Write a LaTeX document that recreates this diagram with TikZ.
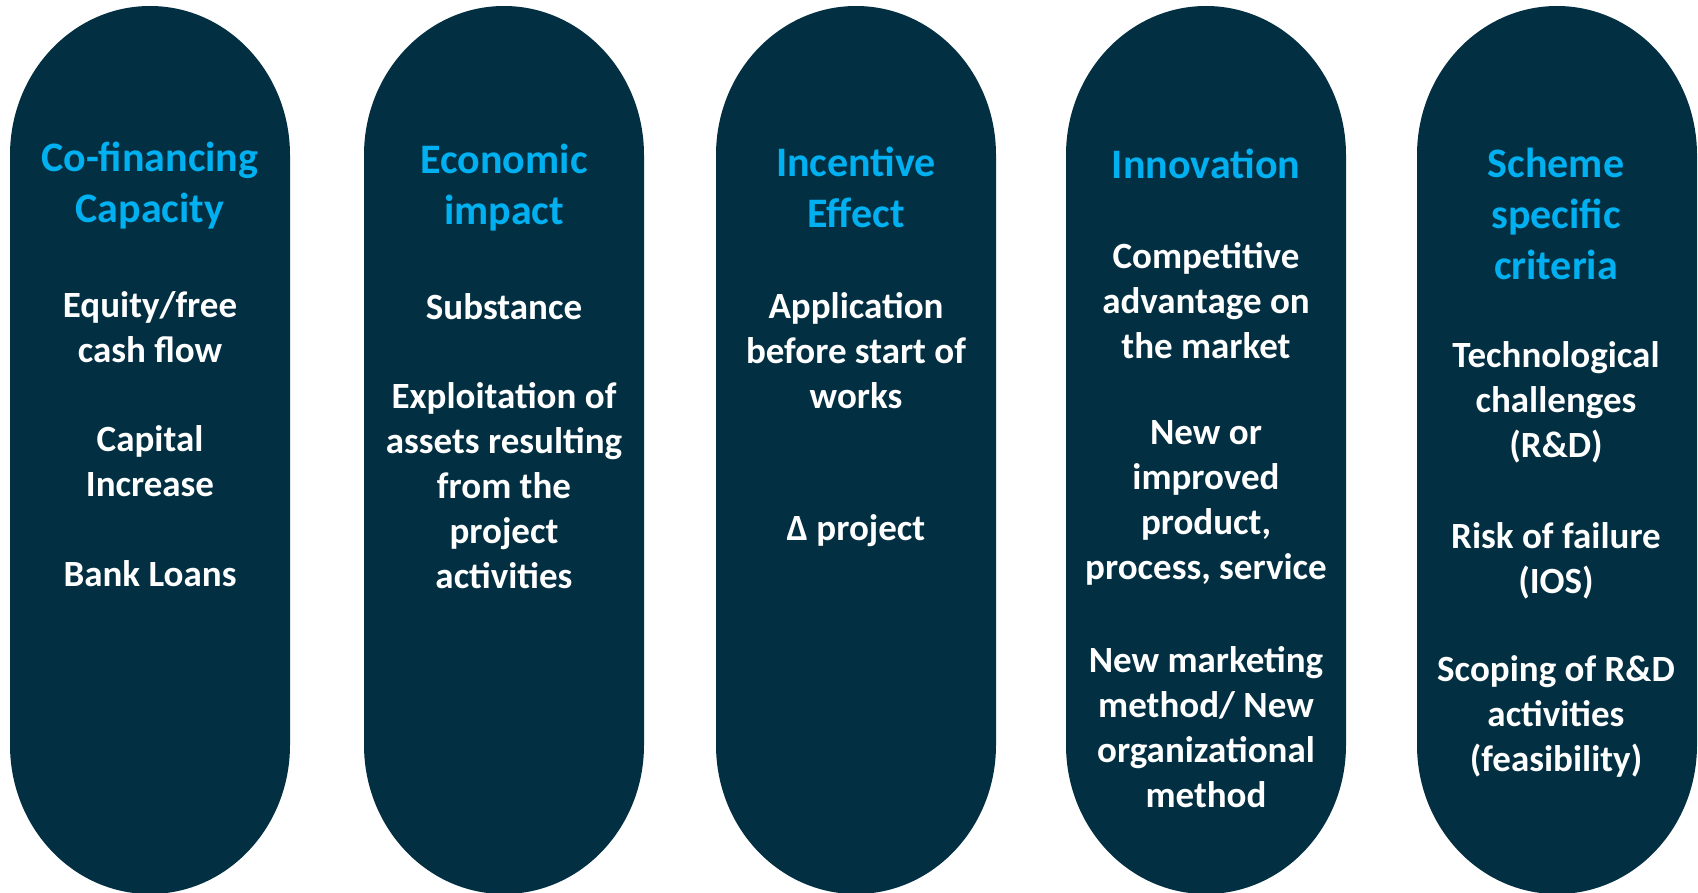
\documentclass[tikz,border=0pt]{standalone}
\usepackage{fontspec}
\setmainfont{Carlito}
\definecolor{navy}{RGB}{2,48,66}
\definecolor{cyanT}{RGB}{0,176,240}
\tikzset{
  pill/.style={fill=navy, draw=none},
  ttl/.style={text=cyanT, align=center, font=\fontsize{42}{51}\selectfont\bfseries, inner sep=0pt},
  bdy/.style={text=white, align=center, font=\fontsize{37}{45}\selectfont\bfseries, inner sep=0pt}
}
\begin{document}
\begin{tikzpicture}[x=1pt,y=-1pt]
\useasboundingbox (0,0) rectangle (1698,893);
\clip (0,0) rectangle (1698,893);
\foreach \xl in {10,364,716,1066,1417}{
  \pgfmathsetmacro{\xr}{\xl+280}
  \fill[pill] (\xl,155) arc[start angle=180,end angle=0,x radius=140,y radius=-149]
     -- (\xr,745) arc[start angle=0,end angle=-180,x radius=140,y radius=-149] -- cycle;
}
% pill 1
\node[ttl] (t1) at (150,186) {Co-financing\\Capacity};
\node[bdy] (a1) at (150,327.5) {Equity/free\\cash flow};
\node[bdy] (a2) at (150,461.5) {Capital\\Increase};
\node[bdy] (a3) at (150,574) {Bank Loans};
% pill 2
\node[ttl] (t2) at (504,188) {Economic\\impact};
\node[bdy] (b1) at (504,306.5) {Substance};
\node[bdy] (b2) at (504,486) {Exploitation of\\assets resulting\\from the\\project\\activities};
% pill 3
\node[ttl] (t3) at (856,187.5) {Incentive\\Effect};
\node[bdy] (c1) at (856,351) {Application\\before start of\\works};
\node[bdy] (c2) at (856,531) {Δ project};
% pill 4
\node[ttl] (t4) at (1206,163.5) {Innovation};
\node[bdy] (d1) at (1206,300.5) {Competitive\\advantage on\\the market};
\node[bdy] (d2) at (1206,502.5) {New or\\improved\\product,\\process, service};
\node[bdy] (d3) at (1206,727) {New marketing\\method/ New\\organizational\\method};
% pill 5
\node[ttl] (t5) at (1556,214) {Scheme\\specific\\criteria};
\node[bdy] (e1) at (1556,402) {Technological\\challenges\\(R\&D)};
\node[bdy] (e2) at (1556,560.5) {Risk of failure\\(IOS)};
\node[bdy] (e3) at (1556,716) {Scoping of R\&D\\activities\\(feasibility)};
\end{tikzpicture}
\end{document}
